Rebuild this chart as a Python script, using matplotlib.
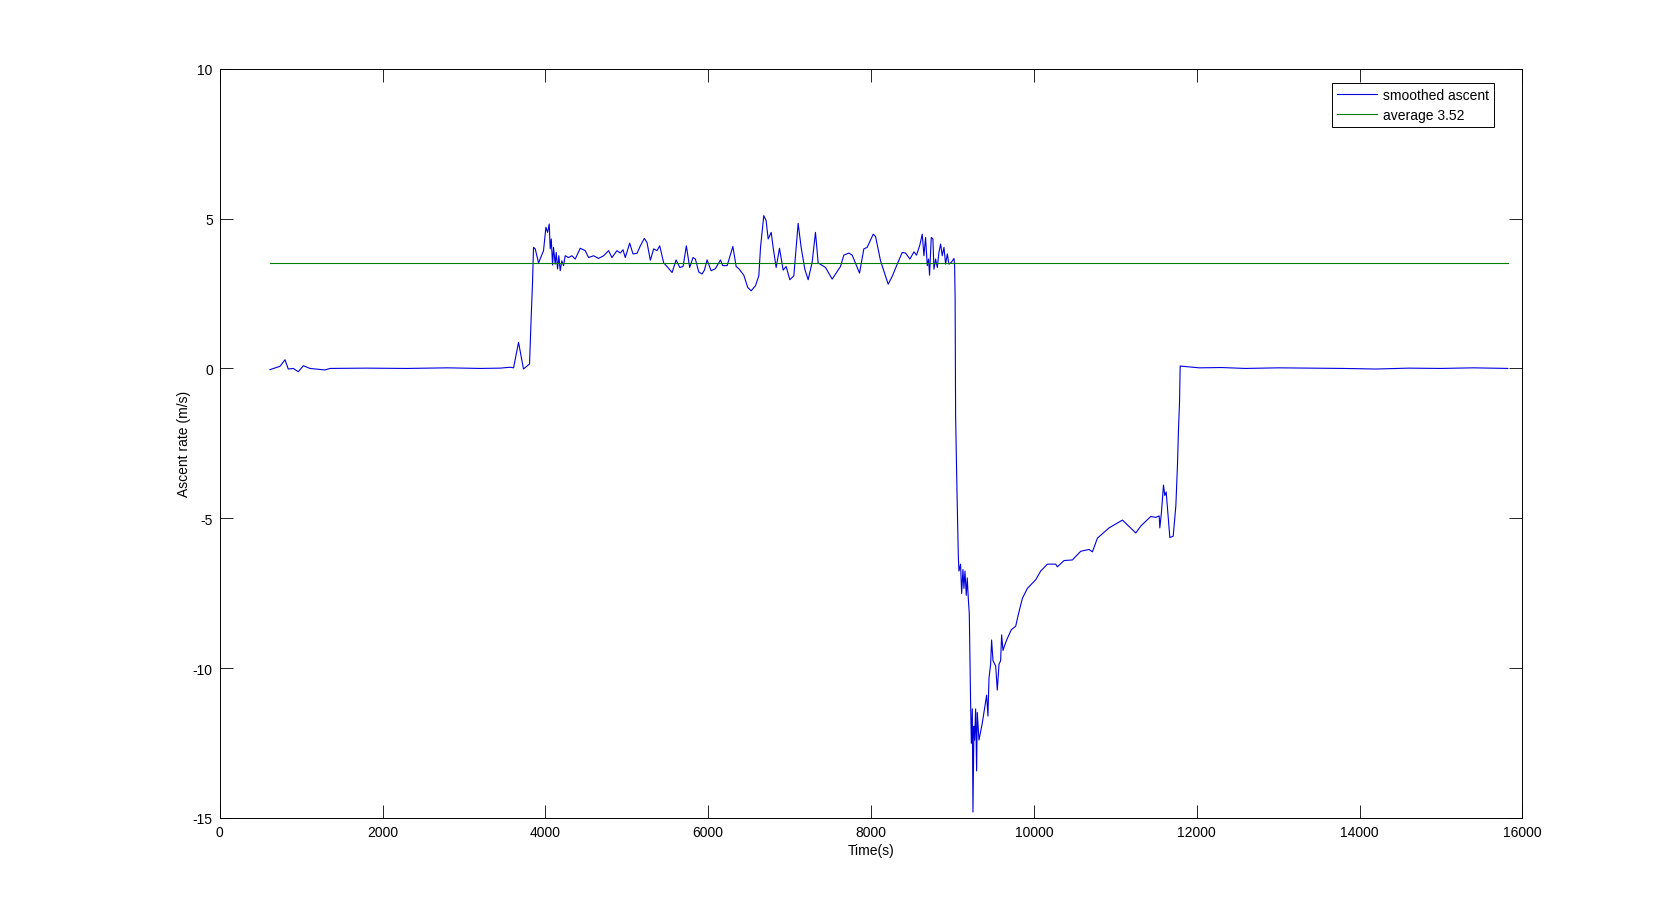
import numpy as np
import matplotlib
matplotlib.use("Agg")
import matplotlib.pyplot as plt

plt.rcParams['font.family'] = ['Liberation Sans', 'DejaVu Sans']
plt.rcParams['axes.unicode_minus'] = False

# smoothed ascent rate (time in s, rate in m/s)
time_s = [
    617, 740, 802, 842, 904, 965, 1027, 1108, 1293, 1355, 1800, 2300, 2800, 3200,
    3445, 3567, 3609, 3670, 3731, 3805, 3826, 3842, 3854, 3875, 3916, 3977, 4006,
    4027, 4047, 4059, 4072, 4088, 4100, 4120, 4133, 4149, 4165, 4182, 4202, 4223,
    4243, 4284, 4325, 4366, 4428, 4489, 4530, 4592, 4653, 4715, 4776, 4817, 4879,
    4920, 4953, 4981, 5035, 5076, 5125, 5166, 5215, 5248, 5289, 5330, 5371, 5404,
    5453, 5494, 5556, 5605, 5650, 5691, 5731, 5772, 5813, 5842, 5883, 5924, 5953,
    5986, 6035, 6088, 6150, 6178, 6232, 6302, 6343, 6375, 6437, 6485, 6527, 6580,
    6621, 6642, 6682, 6711, 6736, 6773, 6797, 6834, 6875, 6920, 6957, 7002, 7051,
    7104, 7141, 7186, 7227, 7276, 7317, 7350, 7440, 7522, 7624, 7665, 7727, 7768,
    7858, 7911, 7952, 8026, 8055, 8116, 8210, 8259, 8321, 8382, 8423, 8477, 8526,
    8558, 8599, 8628, 8649, 8669, 8690, 8706, 8718, 8739, 8759, 8772, 8792, 8813,
    8833, 8854, 8874, 8895, 8915, 8936, 8956, 8985, 9018, 9026, 9032, 9038, 9055,
    9071, 9079, 9099, 9112, 9128, 9140, 9153, 9169, 9181, 9194, 9206, 9222, 9231,
    9243, 9251, 9263, 9271, 9284, 9296, 9304, 9325, 9366, 9419, 9435, 9448, 9468,
    9480, 9497, 9530, 9550, 9571, 9591, 9603, 9620, 9640, 9673, 9722, 9776, 9804,
    9857, 9919, 10022, 10083, 10165, 10267, 10288, 10370, 10472, 10575, 10677,
    10718, 10780, 10923, 11087, 11251, 11312, 11435, 11497, 11538, 11546, 11566,
    11591, 11607, 11624, 11669, 11710, 11743, 11763, 11775, 11788, 11796, 12029,
    12300, 12600, 13000, 13400, 13800, 14200, 14600, 15000, 15400, 15820,
]
ascent = [
    -0.04, 0.07, 0.29, -0.02, 0.00, -0.11, 0.09, 0.00, -0.05, 0.00, 0.01, 0.00, 0.02, 0.00,
    0.01, 0.04, 0.02, 0.87, -0.02, 0.15, 1.76, 2.87, 4.04, 3.99, 3.52, 3.93, 4.71,
    4.54, 4.82, 3.99, 4.32, 3.45, 4.04, 3.48, 3.87, 3.32, 3.76, 3.26, 3.59, 3.43,
    3.76, 3.70, 3.76, 3.65, 4.01, 3.93, 3.70, 3.76, 3.67, 3.76, 3.93, 3.70, 3.93,
    3.85, 3.96, 3.70, 4.18, 3.82, 3.84, 4.09, 4.34, 4.20, 3.61, 3.99, 3.93, 4.09,
    3.52, 3.40, 3.20, 3.62, 3.37, 3.40, 4.09, 3.37, 3.70, 3.65, 3.22, 3.15, 3.28,
    3.62, 3.26, 3.33, 3.62, 3.43, 3.43, 4.07, 3.40, 3.33, 3.11, 2.70, 2.59, 2.76,
    3.09, 4.04, 5.10, 4.93, 4.32, 4.54, 4.04, 3.37, 4.01, 3.28, 3.40, 2.96, 3.09,
    4.84, 4.04, 3.31, 2.96, 3.54, 4.54, 3.52, 3.37, 2.98, 3.40, 3.78, 3.85, 3.78,
    3.18, 3.99, 4.04, 4.48, 4.40, 3.59, 2.81, 3.07, 3.48, 3.87, 3.85, 3.65, 3.89,
    3.78, 4.12, 4.48, 3.76, 4.37, 3.43, 3.65, 3.11, 4.37, 4.32, 3.31, 3.65, 3.37,
    3.87, 4.15, 3.76, 4.04, 3.48, 3.82, 3.48, 3.54, 3.67, 3.43, 2.32, -1.59, -4.12,
    -6.24, -6.76, -6.53, -7.51, -6.71, -7.34, -6.76, -7.57, -6.99, -7.68, -8.19, -11.13, -12.51,
    -11.36, -14.80, -11.94, -12.40, -11.36, -13.43, -11.48, -12.40, -11.83, -10.90, -11.60, -10.33, -9.87,
    -9.06, -9.75, -9.93, -10.73, -9.87, -9.75, -8.89, -9.41, -9.24, -9.01, -8.72, -8.60, -8.26,
    -7.68, -7.34, -7.05, -6.76, -6.53, -6.53, -6.62, -6.41, -6.39, -6.10, -6.04,
    -6.12, -5.66, -5.32, -5.06, -5.49, -5.26, -4.94, -4.97, -4.92, -5.32, -4.80,
    -3.89, -4.24, -4.12, -5.64, -5.60, -4.58, -3.20, -2.05, -1.13, 0.08, 0.02,
    0.03, 0.00, 0.02, 0.01, 0.00, -0.02, 0.01, 0.00, 0.02, 0.00,
]
average = 3.52

fig = plt.figure(figsize=(16.81, 9.2), dpi=100)
ax = fig.add_axes([0.1307, 0.1098, 0.775, 0.8144])

ax.plot(time_s, ascent, color="#0000dd", linewidth=0.8, label="smoothed ascent")
ax.plot([time_s[0], time_s[-1]], [average, average], color="#007f00",
        linewidth=0.8, label="average %.2f" % average)

ax.set_xlim(0, 16000)
ax.set_ylim(-15, 10)
ax.set_xticks(np.arange(0, 16001, 2000))
ax.set_yticks(np.arange(-15, 11, 5))
ax.tick_params(direction="in", length=9.4, width=0.6, top=True, right=True,
               labelsize=10, pad=5)
for s in ax.spines.values():
    s.set_linewidth(0.7)

ax.set_xlabel("Time(s)", fontsize=10, labelpad=3)
ax.set_ylabel("Ascent rate (m/s)", fontsize=10, labelpad=1)

leg = ax.legend(loc="upper right", bbox_to_anchor=(0.978, 0.981), borderaxespad=0,
                fontsize=10, fancybox=False, framealpha=1, edgecolor="black",
                handlelength=2.9, handletextpad=0.4, borderpad=0.35, labelspacing=0.45)
leg.get_frame().set_linewidth(0.7)

fig.savefig("out.png", dpi=100, facecolor="white")
